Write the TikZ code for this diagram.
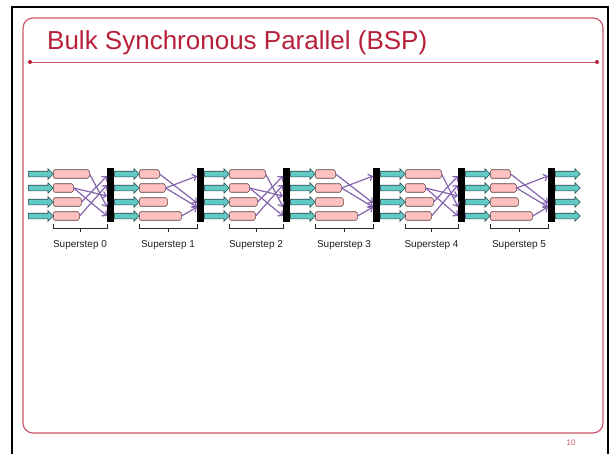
\documentclass[tikz,border=0pt]{standalone}
\usepackage{fontspec}
\setmainfont{Liberation Sans}
\usetikzlibrary{shapes.arrows,arrows.meta}

\definecolor{titrerouge}{RGB}{183,32,58}
\definecolor{cadrerose}{RGB}{204,88,108}
\definecolor{turquoise}{RGB}{98,202,196}
\definecolor{rosepale}{RGB}{255,192,192}
\definecolor{violet}{RGB}{132,100,172}

\begin{document}
\begin{tikzpicture}[x=1pt,y=-1pt]
        % Styles
        \tikzstyle{fleche}=[single arrow, draw={rgb,255:red,40;green,70;blue,80}, fill=turquoise, line width=0.6pt, minimum height=25pt, minimum width=10pt, single arrow head extend=2.5pt, inner sep=2.5pt, anchor=west]
        \tikzstyle{tache}=[rectangle, rounded corners=1.5pt, draw={rgb,255:red,90;green,60;blue,60}, fill=rosepale, line width=0.6pt, minimum height=8.5pt, inner sep=0pt, anchor=west]
        \tikzstyle{barriere}=[rectangle, fill=black, minimum width=7pt, minimum height=54pt, inner sep=0pt, anchor=north west]
        \tikzstyle{comm}=[draw=violet, line width=1.2pt, -{Straight Barb[length=3.5pt,width=7pt]}]
        \tikzstyle{cadre}=[draw=cadrerose, line width=1.2pt]
        \tikzstyle{etiquette}=[font=\fontsize{10}{12}\selectfont, text={rgb,255:red,30;green,30;blue,30}]

        \useasboundingbox (0,0) rectangle (613,453);

        % Cadre de la diapositive
        \draw[line width=2pt] (12,460) -- (12,7) -- (608,7) -- (608,460);
        \draw[cadre, rounded corners=10pt] (23,18) rectangle (603,433);
        \node[anchor=base west, inner sep=0pt, text=titrerouge, font=\fontsize{26}{30}\selectfont] (titre) at (47,49) {Bulk Synchronous Parallel (BSP)};
        \coordinate (lg) at (30,62);
        \coordinate (ld) at (597,62);
        \draw[cadre, line width=1pt] (lg) -- (ld);
        \fill[titrerouge] (lg) circle (2pt) (ld) circle (2pt);
        \node[text=cadrerose, font=\fontsize{8}{9}\selectfont] (page) at (571,443) {10};

        % Barrières et points d'entrée
        \foreach \i/\x in {0/107,1/197,2/283,3/373,4/458,5/548} {
            \node[barriere] (b\i) at (\x,168) {};
            \foreach \j/\y in {a/176,b/185,c/196,d/203,e/207,f/216}
                \coordinate (b\i\j) at (\x,\y);
        }

        % Supersteps : flèches, tâches, accolade, étiquette
        \foreach \k/\xs/\xe/\lun/\ldeux/\ltrois/\lquatre in {0/28/107/36/20/28/26, 1/114/197/20/26/28/42, 2/204/283/36/20/28/26, 3/290/373/20/26/28/42, 4/380/458/36/20/28/26, 5/465/548/20/26/28/42} {
            \foreach \r/\y/\w in {1/174/\lun, 2/188/\ldeux, 3/202/\ltrois, 4/216/\lquatre} {
                \node[fleche] (f\k-\r) at (\xs,\y) {};
                \node[tache, minimum width=\w pt] (t\k-\r) at (\xs+25,\y) {};
            }
            \draw[line width=0.6pt, draw={rgb,255:red,40;green,40;blue,40}] (\xs+25,224) -- (\xs+25,228) -- (\xe,228) -- (\xe,224) ({(\xs+25+\xe)/2},228) -- ({(\xs+25+\xe)/2},232);
            \node[etiquette] (s\k) at ({(\xs+25+\xe)/2},245) {Superstep \k};
        }

        % Communications
        \foreach \k in {0,2,4} {
            \draw[comm] (t\k-1.east) -- (b\k e);
            \draw[comm] (t\k-2.east) -- (b\k c);
            \draw[comm] (t\k-2.east) -- (b\k f);
            \draw[comm] (t\k-3.east) -- (b\k a);
            \draw[comm] (t\k-4.east) -- (b\k b);
        }
        \foreach \k in {1,3,5} {
            \draw[comm] (t\k-1.east) -- (b\k d);
            \draw[comm] (t\k-2.east) -- (b\k a);
            \draw[comm] (t\k-2.east) -- (b\k e);
            \draw[comm] (t\k-4.east) -- (b\k e);
        }

        % Flèches de sortie
        \foreach \r/\y in {1/174,2/188,3/202,4/216}
            \node[fleche] (fin-\r) at (555,\y) {};
    \end{tikzpicture}
\end{document}
